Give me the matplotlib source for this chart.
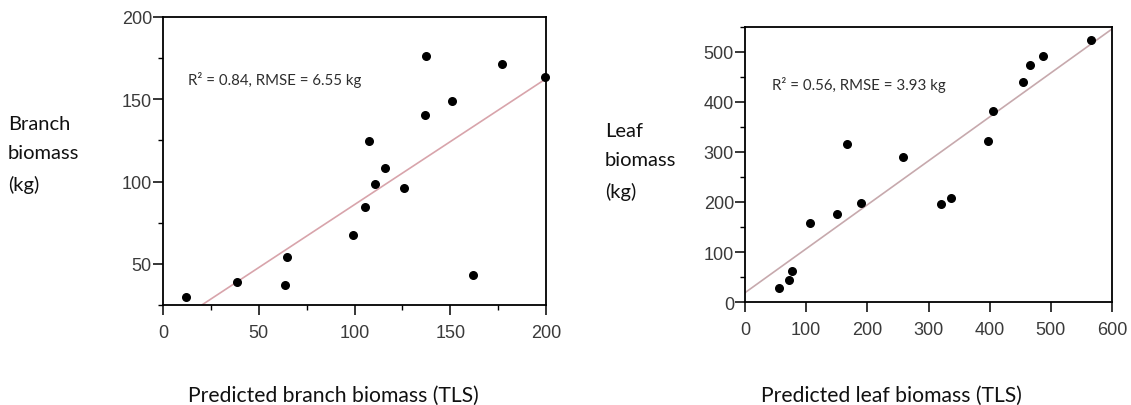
import numpy as np
import matplotlib
matplotlib.use('Agg')
import matplotlib.pyplot as plt
from matplotlib.ticker import MultipleLocator

# branch biomass panel
branch_pred = [12.0, 38.7, 63.7, 64.5, 99.3, 105.6, 107.5, 110.7, 115.9, 125.8,
               136.6, 137.4, 150.8, 161.7, 176.8, 199.3]
branch_obs = [29.7, 39.2, 37.4, 54.0, 67.5, 84.8, 124.6, 98.6, 108.1, 95.8,
              140.4, 176.2, 149.1, 43.2, 171.3, 163.4]
branch_fit = (9.5, 0.765)  # intercept, slope
branch_note = 'R² = 0.84, RMSE = 6.55 kg'

# leaf biomass panel
leaf_pred = [55.9, 71.3, 76.1, 105.8, 151.0, 166.5, 189.1, 258.6, 321.0, 336.5,
             396.5, 406.1, 454.2, 466.1, 486.9, 566.0]
leaf_obs = [28.6, 43.3, 61.9, 157.1, 175.1, 316.2, 197.1, 290.9, 196.4, 208.4,
            321.6, 382.8, 440.7, 474.0, 492.7, 523.3]
leaf_fit = (18.6, 0.879)
leaf_note = 'R² = 0.56, RMSE = 3.93 kg'

W, H = 1131, 406
fig = plt.figure(figsize=(W/100, H/100), dpi=100)
fig.patch.set_facecolor('white')

lab_font = 'Lato'


def style_axes(ax):
    for s in ax.spines.values():
        s.set_linewidth(1.3)
        s.set_color('black')
    ax.tick_params(which='major', length=7, width=1.1, direction='out',
                   colors='black', labelcolor='#3a3a3a', labelsize=13)
    ax.tick_params(which='minor', length=3.5, width=1.0, direction='out')
    ax.tick_params(axis='x', which='major', pad=6.5)
    ax.tick_params(axis='y', which='major', pad=1)
    for lab in ax.get_xticklabels() + ax.get_yticklabels():
        lab.set_fontfamily('Liberation Sans')


# left panel
ax1 = fig.add_axes([163/W, 1-306/H, (546-163)/W, (306-18)/H])
ax1.set_xlim(0, 200)
ax1.set_ylim(25, 200)
ax1.xaxis.set_major_locator(MultipleLocator(50))
ax1.xaxis.set_minor_locator(MultipleLocator(25))
ax1.yaxis.set_major_locator(MultipleLocator(50))
ax1.yaxis.set_minor_locator(MultipleLocator(25))
xx = np.array([0, 200])
ax1.plot(xx, branch_fit[0] + branch_fit[1]*xx, color='#d8a4ab', lw=1.2, zorder=1)
ax1.scatter(branch_pred, branch_obs, s=30, color='black', zorder=3, clip_on=False)
ax1.text(13, 162.3, branch_note, fontsize=10.8, family=lab_font,
         color='#2e2e2e', va='center')
style_axes(ax1)

# right panel
ax2 = fig.add_axes([745/W, 1-303/H, (1112-745)/W, (303-28)/H])
ax2.set_xlim(0, 600)
ax2.set_ylim(0, 550)
ax2.xaxis.set_major_locator(MultipleLocator(100))
ax2.yaxis.set_major_locator(MultipleLocator(100))
ax2.yaxis.set_minor_locator(MultipleLocator(50))
xx = np.array([0, 600])
ax2.plot(xx, leaf_fit[0] + leaf_fit[1]*xx, color='#c7a9ad', lw=1.2, zorder=1)
ax2.scatter(leaf_pred, leaf_obs, s=30, color='black', zorder=3, clip_on=False)
ax2.text(43.6, 436, leaf_note, fontsize=10.8, family=lab_font,
         color='#2e2e2e', va='center')
style_axes(ax2)

# axis titles
fig.text(8/W, 1-155/H, 'Branch\nbiomass\n(kg)', family=lab_font, fontsize=14.5,
         va='center', ha='left', linespacing=1.9, color='#111111')
fig.text(605/W, 1-162/H, 'Leaf\nbiomass\n(kg)', family=lab_font, fontsize=14.5,
         va='center', ha='left', linespacing=1.9, color='#111111')
fig.text(333/W, 1-396/H, 'Predicted branch biomass (TLS)', family=lab_font,
         fontsize=15.2, ha='center', va='center', color='#111111')
fig.text(891/W, 1-396/H, 'Predicted leaf biomass (TLS)', family=lab_font,
         fontsize=15.2, ha='center', va='center', color='#111111')

fig.savefig('out.png', dpi=100)
